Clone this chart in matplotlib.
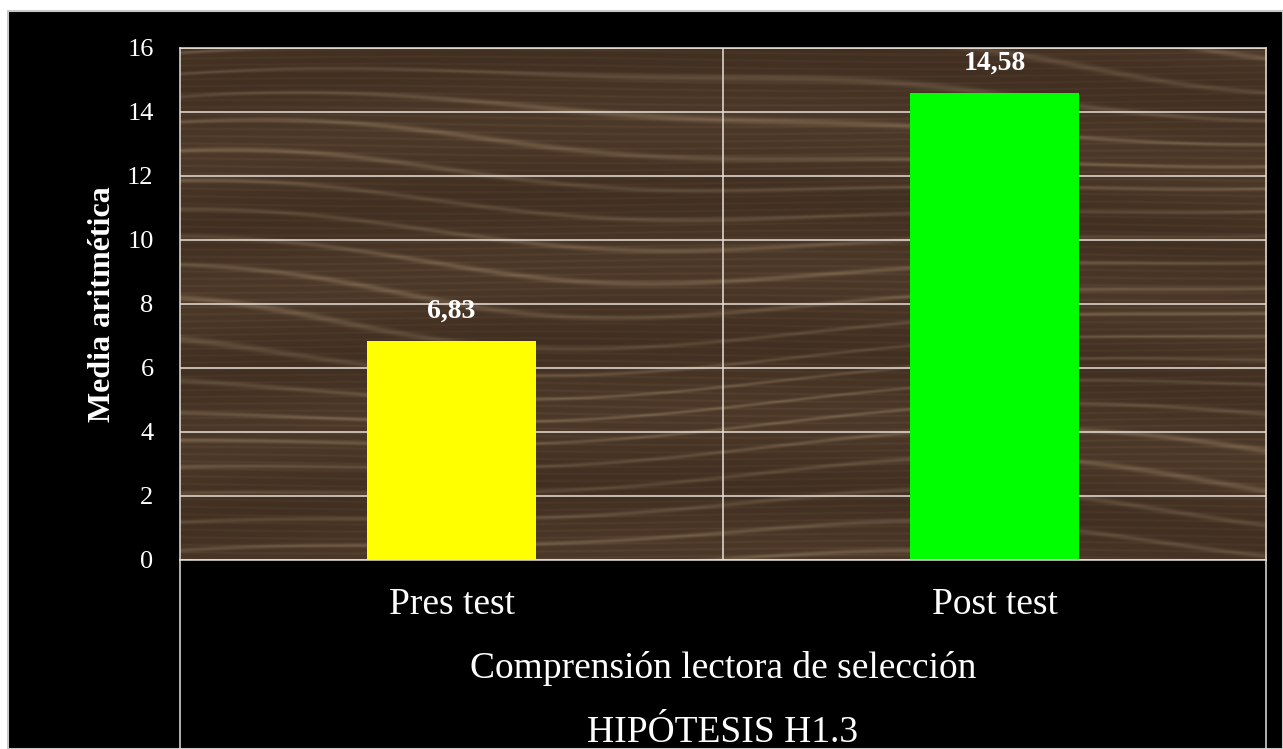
import numpy as np
import matplotlib.pyplot as plt
from matplotlib.lines import Line2D
from matplotlib.patches import Rectangle

categorias = ["Pres test", "Post test"]
medias = [6.83, 14.58]
etiquetas = ["6,83", "14,58"]
colores = ["#ffff00", "#00ff00"]
yticks = [0, 2, 4, 6, 8, 10, 12, 14, 16]

plt.rcParams['font.family'] = ['Liberation Serif', 'DejaVu Serif']

fig = plt.figure(figsize=(12.83, 7.49), dpi=100)
fig.patch.set_facecolor("white")
# fondo negro con borde gris claro
fig.patches.append(Rectangle((8 / 1283, 0), 1 - 8 / 1283, 1 - 11 / 749,
                             transform=fig.transFigure, facecolor="black",
                             edgecolor="#c8c8c8", linewidth=1.5, zorder=-10))

L, R, T, B = 180 / 1283, 1266 / 1283, 1 - 48 / 749, 1 - 560 / 749
ax = fig.add_axes([L, B, R - L, T - B])
ax.set_xlim(-0.5, 1.5)
ax.set_ylim(0, 16)

# textura de madera (solo decorativa)
h, w = 512, 1086
yy, xx = np.mgrid[0:h, 0:w].astype(float)
fase = (yy / 9.0
        + 2.2 * np.sin(xx / 260.0 + yy / 90.0)
        + 0.9 * np.sin(xx / 120.0 + 1.3)
        + 0.5 * np.sin(yy / 31.0 + xx / 400.0))
vetas = np.abs(np.sin(fase)) ** 30
fase2 = yy / 2.3 + 1.2 * np.sin(xx / 170.0 + yy / 50.0)
finas = np.abs(np.sin(fase2)) ** 8
bandas = 0.5 + 0.5 * np.sin(yy / 23.0 + 1.5 * np.sin(xx / 300.0))
base = np.array([76, 56, 40]) / 255.0
claro = np.array([150, 128, 100]) / 255.0
oscuro = np.array([42, 28, 19]) / 255.0
t = 0.45 * vetas + 0.12 * finas
img = base[None, None, :] * (1 - t[..., None]) + claro[None, None, :] * t[..., None]
img = img * (1 - 0.3 * bandas[..., None]) + oscuro[None, None, :] * 0.3 * bandas[..., None]
ax.imshow(np.clip(img, 0, 1), extent=(-0.5, 1.5, 0, 16), aspect="auto",
          interpolation="bilinear", zorder=0)

x = np.arange(len(categorias))
ax.bar(x, medias, width=0.313, color=colores, zorder=2)

for xi, v, lab in zip(x, medias, etiquetas):
    ax.annotate(lab, (xi, v), xytext=(0, 22), textcoords="offset points",
                ha="center", va="center", color="white", fontsize=20,
                fontweight="bold", zorder=3)

gc = "#e8e0d8"
for yv in yticks:
    ax.axhline(yv, color=gc, linewidth=1.1, zorder=1)
ax.axvline(0.5, color=gc, linewidth=1.1, zorder=1)

for s in ax.spines.values():
    s.set_color(gc)
    s.set_linewidth(1.1)

ax.set_yticks(yticks)
ax.set_yticklabels([str(v) for v in yticks], color="white", fontsize=19)
ax.set_xticks(x)
ax.set_xticklabels(categorias, color="white", fontsize=27)
ax.tick_params(axis="y", length=0, pad=19)
ax.tick_params(axis="x", length=0, pad=20)

ax.set_ylabel("Media aritmética", color="white", fontsize=23,
              fontweight="bold", labelpad=7)

# lineas de la tabla bajo el eje
for xf in (L, R):
    fig.add_artist(Line2D([xf, xf], [0, B], transform=fig.transFigure,
                          color=gc, linewidth=1.1))

fig.text((L + R) / 2, 1 - 668 / 749, "Comprensión lectora de selección",
         color="white", fontsize=27, ha="center", va="center")
fig.text((L + R) / 2, 1 - 733 / 749, "HIPÓTESIS H1.3",
         color="white", fontsize=27, ha="center", va="center")

fig.savefig("out.png", dpi=100, facecolor=fig.get_facecolor())
